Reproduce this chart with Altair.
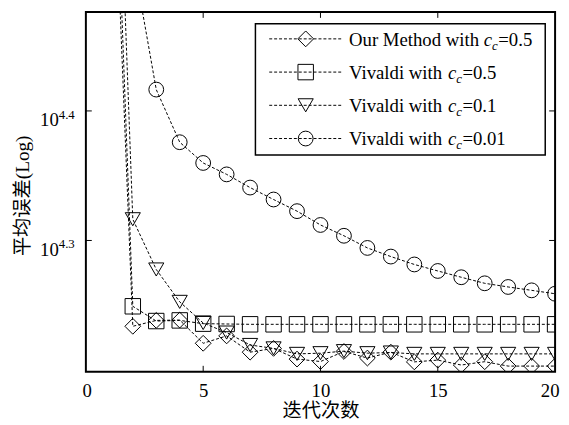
import altair as alt
import pandas as pd

# ---------------- data ----------------
iterations = list(range(1, 21))
our_method_cc05 = [48500, 17130, 17310, 17320, 16620, 16840, 16360, 16470, 16160, 16090,
                   16380, 16190, 16360, 16080, 16130, 15990, 16085, 15960, 15960, 15960]
vivaldi_cc05 = [54000, 17750, 17290, 17310, 17210, 17200, 17190, 17190, 17190, 17190,
                17190, 17190, 17190, 17190, 17190, 17190, 17190, 17190, 17190, 17190]
vivaldi_cc01 = [64000, 20720, 18950, 17890, 17230, 16940, 16570, 16470, 16310, 16330,
                16390, 16330, 16350, 16310, 16310, 16310, 16310, 16310, 16310, 16310]
vivaldi_cc001 = [45000, 33030, 26090, 23760, 22900, 22440, 21920, 21460, 21020, 20510,
                 20120, 19690, 19390, 19120, 18900, 18690, 18490, 18370, 18260, 18150]

series_keys = ["our05", "viv05", "viv01", "viv001"]
legend_prefix = ["Our Method with ", "Vivaldi with ", "Vivaldi with ", "Vivaldi with "]
legend_value = ["=0.5", "=0.5", "=0.1", "=0.01"]
shapes = ["diamond", "square", "triangle-down", "circle"]
sizes = [256, 225, 310, 324]

x_tick_labels = [0, 5, 10, 15, 20]
x_inner_ticks = [5, 10, 15]
y_tick_values = [10 ** 4.3, 10 ** 4.4]
y_tick_exponents = ["4.3", "4.4"]

# ---------------- layout ----------------
FONT = "Liberation Serif"
CJK = "Liberation Serif, Noto Sans CJK SC"
W, H = 476, 365
TICK = 6

rows = []
for key, vals in zip(series_keys, [our_method_cc05, vivaldi_cc05, vivaldi_cc01, vivaldi_cc001]):
    for it, v in zip(iterations, vals):
        rows.append({"iter": it, "err": v, "series": key})
df = pd.DataFrame(rows)

x_enc = alt.X(
    "iter:Q",
    scale=alt.Scale(domain=[0, 20], nice=False, zero=False),
    axis=alt.Axis(values=x_tick_labels, format="d", ticks=False, domain=False, grid=False,
                  labelFont=FONT, labelFontSize=19, labelColor="black", labelPadding=25,
                  labelBaseline="alphabetic", labelFlush=True, labelFlushOffset=4,
                  title="迭代次数", titleFont=CJK, titleFontSize=19.5, titleFontWeight="normal",
                  titleColor="black", titleX=W / 2, titleY=45, titleBaseline="alphabetic"),
)
y_enc = alt.Y(
    "err:Q",
    scale=alt.Scale(type="log", domain=[15800, 29950], nice=False),
    axis=alt.Axis(labels=False, ticks=False, domain=False, grid=False,
                  title="平均误差(Log)", titleFont=CJK, titleFontSize=19.5, titleFontWeight="normal",
                  titleColor="black", titleX=-58, titleY=186, titleBaseline="alphabetic"),
)
shape_enc = alt.Shape("series:N", scale=alt.Scale(domain=series_keys, range=shapes), legend=None)
size_enc = alt.Size("series:N", scale=alt.Scale(domain=series_keys, range=sizes), legend=None)

base = alt.Chart(df)
lines = base.mark_line(color="black", strokeWidth=1, strokeDash=[3, 2], clip=True).encode(
    x=x_enc, y=y_enc, detail="series:N")
points = base.mark_point(filled=False, color="black", strokeWidth=1, opacity=1, clip=True).encode(
    x=x_enc, y=y_enc, shape=shape_enc, size=size_enc)

# inward ticks
xt = alt.Chart(pd.DataFrame({"iter": x_inner_ticks}))
xt_bottom = xt.mark_rule(color="black", strokeWidth=1).encode(
    x=x_enc, y=alt.value(H - TICK), y2=alt.value(H))
xt_top = xt.mark_rule(color="black", strokeWidth=1).encode(
    x=x_enc, y=alt.value(0), y2=alt.value(TICK))
ytdf = pd.DataFrame({"err": y_tick_values, "base": ["10", "10"], "exp": y_tick_exponents})
yt = alt.Chart(ytdf)
yt_left = yt.mark_rule(color="black", strokeWidth=1).encode(
    y=y_enc, x=alt.value(0), x2=alt.value(TICK))
yt_right = yt.mark_rule(color="black", strokeWidth=1).encode(
    y=y_enc, x=alt.value(W - TICK), x2=alt.value(W))
ylab_base = yt.mark_text(align="right", baseline="alphabetic", font=FONT, fontSize=19,
                         dy=15.5, color="black").encode(x=alt.value(-27.5), y=y_enc, text="base:N")
ylab_exp = yt.mark_text(align="left", baseline="alphabetic", font=FONT, fontSize=13,
                        dy=8, color="black").encode(x=alt.value(-27.5), y=y_enc, text="exp:N")

# ---------------- manual legend ----------------
metrics = {' ': 0.25, 'O': 0.722, 'u': 0.5, 'r': 0.333, 'M': 0.889, 'e': 0.444, 't': 0.278,
           'h': 0.5, 'o': 0.5, 'd': 0.5, 'w': 0.722, 'i': 0.278, 'V': 0.722, 'v': 0.5,
           'a': 0.444, 'l': 0.278, '=': 0.564, '0': 0.5, '1': 0.5, '5': 0.5, '.': 0.25}


def tw(s, fs):
    return sum(metrics.get(c, 0.5) for c in s) * fs


LFS, SFS = 19, 13
text_x0 = 267
leg_rows = []
for i, key in enumerate(series_keys):
    lb = 34.3 + 33.7 * i
    x_c = text_x0 + tw(legend_prefix[i], LFS)
    x_sub = x_c + 0.444 * LFS
    x_val = x_sub + 0.444 * SFS + 0.5
    leg_rows.append({"series": key, "ly": lb - 7, "lb": lb, "lbs": lb + 4,
                     "prefix": legend_prefix[i], "value": legend_value[i], "c": "c",
                     "xp": text_x0, "xc": x_c, "xs": x_sub, "xv": x_val})
ldf = pd.DataFrame(leg_rows)
lg = alt.Chart(ldf)
leg_box = alt.Chart(pd.DataFrame({"a": [0]})).mark_rect(
    fill="white", stroke="black", strokeWidth=1.5).encode(
    x=alt.value(172), x2=alt.value(466), y=alt.value(12), y2=alt.value(145))
leg_lines = lg.mark_rule(color="black", strokeWidth=1, strokeDash=[3, 2]).encode(
    y=alt.Y("ly:Q", scale=None), x=alt.value(186), x2=alt.value(260))
leg_pts = lg.mark_point(filled=False, color="black", strokeWidth=1, opacity=1).encode(
    x=alt.value(223), y=alt.Y("ly:Q", scale=None), shape=shape_enc, size=size_enc)
leg_prefix = lg.mark_text(align="left", baseline="alphabetic", font=FONT, fontSize=LFS,
                          color="black").encode(x=alt.X("xp:Q", scale=None),
                                                y=alt.Y("lb:Q", scale=None), text="prefix:N")
leg_c = lg.mark_text(align="left", baseline="alphabetic", font=FONT, fontSize=LFS,
                     fontStyle="italic", color="black").encode(
    x=alt.X("xc:Q", scale=None), y=alt.Y("lb:Q", scale=None), text="c:N")
leg_sub = lg.mark_text(align="left", baseline="alphabetic", font=FONT, fontSize=SFS,
                       fontStyle="italic", color="black").encode(
    x=alt.X("xs:Q", scale=None), y=alt.Y("lbs:Q", scale=None), text="c:N")
leg_val = lg.mark_text(align="left", baseline="alphabetic", font=FONT, fontSize=LFS,
                       color="black").encode(x=alt.X("xv:Q", scale=None),
                                             y=alt.Y("lb:Q", scale=None), text="value:N")

chart = alt.layer(
    lines, points, xt_bottom, xt_top, yt_left, yt_right, ylab_base, ylab_exp,
    leg_box, leg_lines, leg_pts, leg_prefix, leg_c, leg_sub, leg_val,
).properties(
    width=W, height=H,
    autosize=alt.AutoSizeParams(type="none"),
    padding={"left": 79, "top": 1, "right": 6, "bottom": 51},
    background="white",
).configure_view(stroke="black", strokeWidth=2)

chart.save("out.html", embed_options={"renderer": "svg", "actions": False})
